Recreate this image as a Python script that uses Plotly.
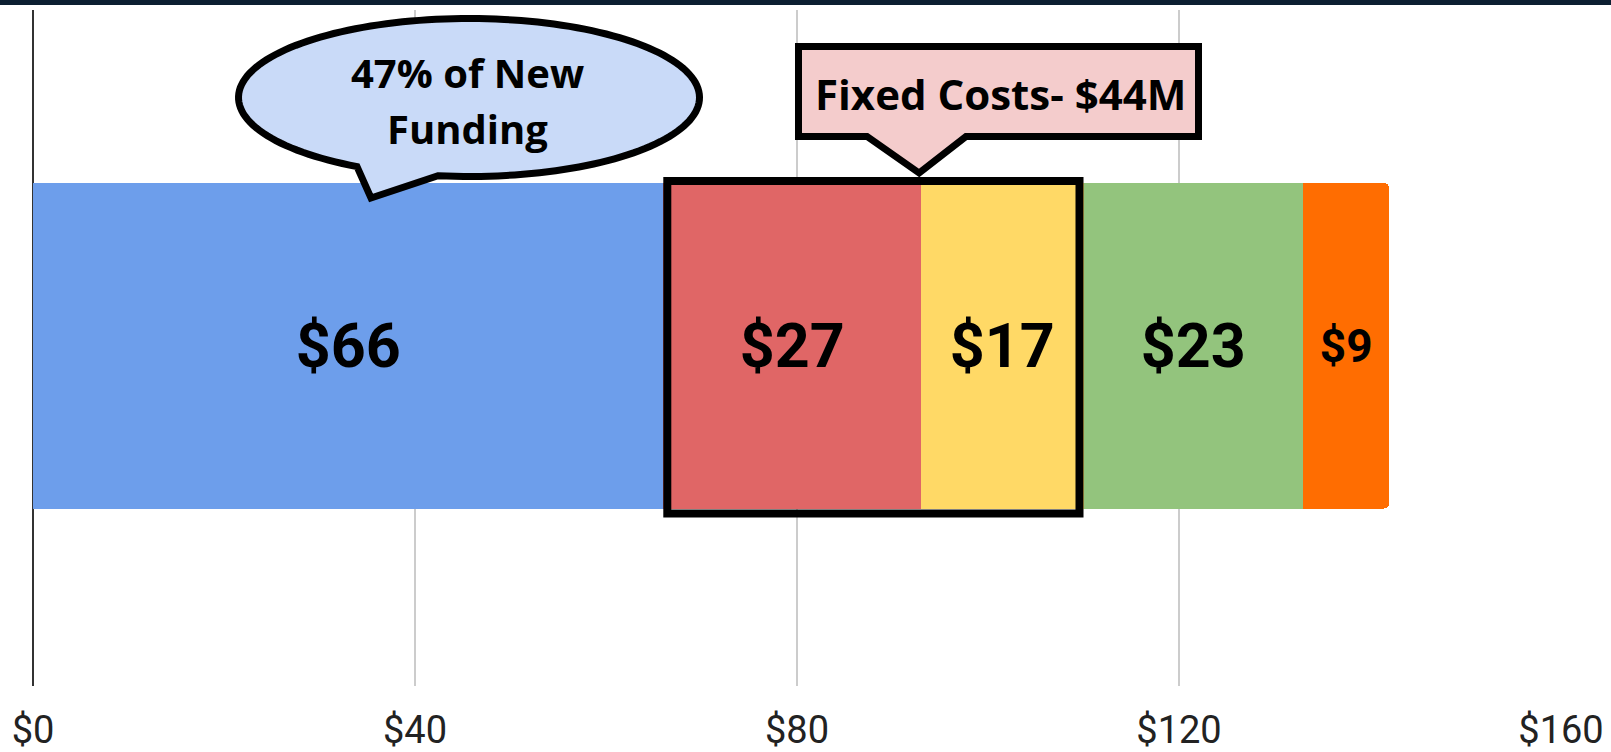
import numpy as np
import plotly.graph_objects as go

# ---- data ----
categories = ["Total"]
segment_names = ["Segment 1", "Segment 2", "Segment 3", "Segment 4", "Segment 5"]
segment_values = [66, 27, 17, 23, 9]
segment_labels = ["$66", "$27", "$17", "$23", "$9"]
segment_colors = ["#6d9eeb", "#e06666", "#ffd966", "#93c47d", "#ff6d01"]
label_sizes = [61, 61, 61, 61, 46]
tick_values = [0, 40, 80, 120, 160]
tick_labels = ["$0", "$40", "$80", "$120", "$160"]
callout_funding_lines = ["47% of New", "Funding"]
callout_fixed = "Fixed Costs- $44M"

W, H = 1611, 752
L, R, T, B = 33, 50, 10, 66
PW, PH = W - L - R, H - T - B


def px(X, Y):
    return (X - L) / PW, (H - B - Y) / PH


fig = go.Figure()
for name, v, lab, col, fs in zip(segment_names, segment_values, segment_labels,
                                 segment_colors, label_sizes):
    fig.add_trace(go.Bar(
        y=categories, x=[v], name=name, orientation="h",
        marker=dict(color=col, line=dict(width=0)),
        text=[lab], textposition="inside", insidetextanchor="middle",
        textangle=0,
        textfont=dict(family="Roboto", size=fs, color="black", weight="bold"),
        hoverinfo="skip", width=0.8,
    ))

shapes = []
# dark band at top
shapes.append(dict(type="rect", xref="paper", yref="paper",
                   x0=px(0, 0)[0], x1=px(W, 0)[0], y0=px(0, 0)[1], y1=px(0, 5)[1],
                   fillcolor="#0c1f31", line=dict(width=0), layer="above"))

# fixed-cost box around segments 2 and 3
start = segment_values[0]
end = start + segment_values[1] + segment_values[2]
inset = 4 / (PW / 160)
shapes.append(dict(type="rect", xref="x", yref="paper",
                   x0=start + inset, x1=end - inset,
                   y0=px(0, 513.5)[1], y1=px(0, 181)[1],
                   line=dict(color="black", width=8), fillcolor="rgba(0,0,0,0)",
                   layer="above"))


def path_from(points):
    pts = [px(X, Y) for X, Y in points]
    return "M " + " L ".join(f"{a:.5f},{b:.5f}" for a, b in pts) + " Z"


# speech-bubble ellipse
cx, cy, rx, ry = 469, 97.5, 230.5, 79
t0 = np.degrees(np.arccos((438 - cx) / rx))
t1 = np.degrees(np.arccos((357 - cx) / rx)) - 360
ts = np.radians(np.linspace(t0, t1, 160))
pts = [(cx + rx * np.cos(t), cy + ry * np.sin(t)) for t in ts]
pts.append((371, 198))
shapes.append(dict(type="path", xref="paper", yref="paper", path=path_from(pts),
                   fillcolor="#c9daf8", line=dict(color="black", width=7),
                   layer="above"))

# fixed costs callout box
tip_x = L + (start + segment_values[1]) * PW / 160
box_pts = [(798.5, 46.5), (1198.5, 46.5), (1198.5, 136.5), (966, 136.5),
           (tip_x - 2, 173), (867, 136.5), (798.5, 136.5)]
shapes.append(dict(type="path", xref="paper", yref="paper", path=path_from(box_pts),
                   fillcolor="#f4cccc", line=dict(color="black", width=7),
                   layer="above"))

bubble_font = dict(family="Open Sans", size=40, color="black", weight="bold")
annotations = [
    dict(x=px(468, 0)[0], y=px(0, 73)[1], xref="paper", yref="paper",
         text=callout_funding_lines[0], showarrow=False, xanchor="center",
         yanchor="middle", font=bubble_font),
    dict(x=px(468, 0)[0], y=px(0, 129)[1], xref="paper", yref="paper",
         text=callout_funding_lines[1], showarrow=False, xanchor="center",
         yanchor="middle", font=bubble_font),
    dict(x=px(1001, 0)[0], y=px(0, 93)[1], xref="paper", yref="paper",
         text=callout_fixed, showarrow=False, xanchor="center", yanchor="middle",
         font=dict(family="Open Sans", size=42, color="black", weight="bold")),
]

fig.update_layout(
    width=W, height=H, barmode="stack", barcornerradius=5,
    margin=dict(l=L, r=R, t=T, b=B, pad=0),
    paper_bgcolor="white", plot_bgcolor="white",
    showlegend=False, shapes=shapes, annotations=annotations,
    xaxis=dict(range=[0, 160], tickvals=tick_values, ticktext=tick_labels,
               showgrid=True, gridcolor="#cccccc", gridwidth=2,
               zeroline=True, zerolinecolor="#333333", zerolinewidth=2,
               showline=False, ticks="",
               tickfont=dict(family="Roboto", size=38, color="#222222"),
               ticklabelstandoff=18, fixedrange=True, automargin=False),
    yaxis=dict(range=[-0.836, 0.825], visible=False, fixedrange=True),
)

fig.write_html(
    "out.html",
    config={"displayModeBar": False},
    post_script="document.body.style.margin='0';document.body.style.overflow='hidden';",
)
